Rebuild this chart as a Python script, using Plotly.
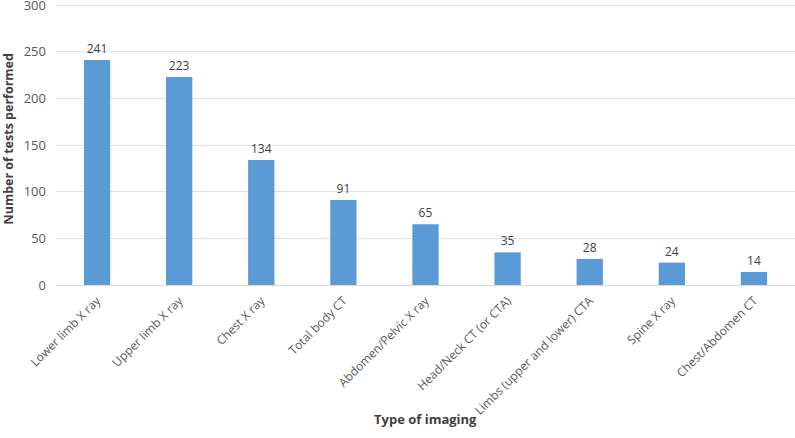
import plotly.graph_objects as go

imaging_types = ["Lower limb X ray", "Upper limb X ray", "Chest X ray", "Total body CT",
                 "Abdomen/Pelvic X ray", "Head/Neck CT (or CTA)", "Limbs (upper and lower) CTA",
                 "Spine X ray", "Chest/Abdomen CT"]
tests_performed = [241, 223, 134, 91, 65, 35, 28, 24, 14]
y_ticks = [0, 50, 100, 150, 200, 250, 300]

font_family = "Open Sans, Liberation Sans, sans-serif"

fig = go.Figure([go.Bar(x=imaging_types, y=tests_performed,
                        marker=dict(color="#5B9BD5", line=dict(width=0)),
                        width=0.32,
                        text=tests_performed, textposition="outside",
                        textfont=dict(size=12, color="#404040"),
                        cliponaxis=False)])

fig.update_layout(
    width=795, height=438,
    margin=dict(l=56, r=0, t=0, b=153, autoexpand=False),
    plot_bgcolor="white", paper_bgcolor="white",
    font=dict(family=font_family, size=12, color="#595959"),
    showlegend=False,
    xaxis=dict(tickangle=-45, showline=True, linecolor="#d9d9d9", ticks="",
               automargin=False, ticklabelstandoff=3,
               tickfont=dict(size=12, color="#595959")),
    # top of range a bit above 300 so the 300 line sits just under the top edge
    yaxis=dict(range=[0, 305.4], tickvals=y_ticks, showgrid=True, gridcolor="#e0e0e0",
               automargin=False, zeroline=False, ticks="", ticklabeloverflow="allow",
               ticklabelstandoff=9, tickfont=dict(size=13, color="#595959")),
    annotations=[
        dict(text="<b>Type of imaging</b>", xref="paper", yref="paper", x=0.5, y=0,
             yshift=-145, showarrow=False, font=dict(size=13, color="#404040")),
        dict(text="<b>Number of tests performed</b>", xref="paper", yref="paper", x=0, y=0.5,
             xanchor="center", xshift=-48, yshift=3, textangle=-90, showarrow=False,
             font=dict(size=12.5, color="#404040")),
    ],
)

fig.write_html("out.html", config={"displayModeBar": False},
               post_script="document.body.style.margin='0';")
